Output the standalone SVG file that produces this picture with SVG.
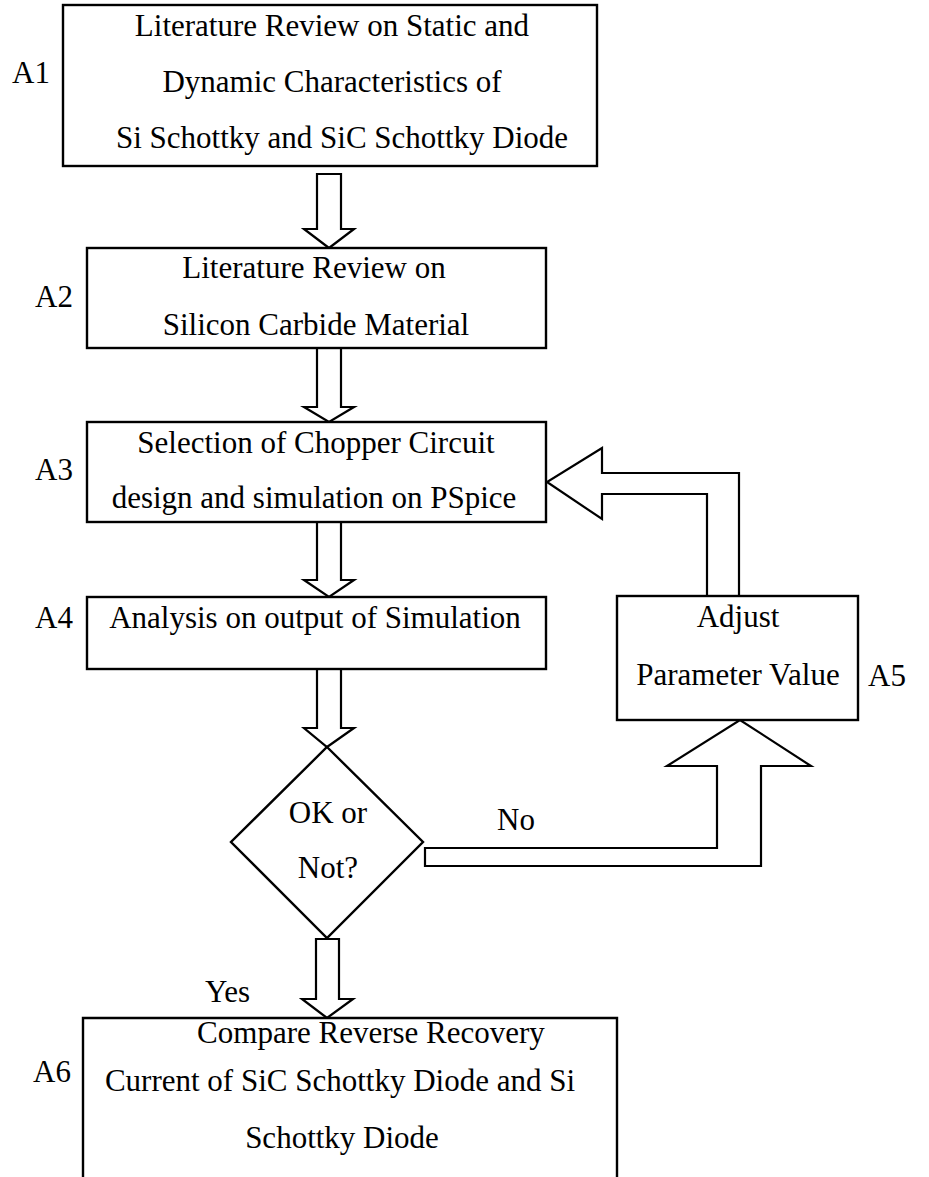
<svg xmlns="http://www.w3.org/2000/svg" width="929" height="1177" viewBox="0 0 929 1177">
<style>
.box{fill:#fff;stroke:#000;stroke-width:2.4}
.arr{fill:#fff;stroke:#000;stroke-width:2.2;stroke-linejoin:miter}
text{font-family:"Liberation Serif","Times New Roman",serif;font-size:31px;fill:#000}
.c{text-anchor:middle}
</style>
<rect width="929" height="1177" fill="#fff"/>
<g id="connectors">
<polygon class="arr" points="317,174 341,174 341,229 354,229 329,248 304,229 317,229"/>
<polygon class="arr" points="317,348 341,348 341,407 354,407 329,422 304,407 317,407"/>
<polygon class="arr" points="317,522 341,522 341,580 354,580 329,597 304,580 317,580"/>
<polygon class="arr" points="317,669 341,669 341,728 354,728 327,747 304,728 317,728"/>
<polygon class="arr" points="316,939 339,939 339,999 353,999 327,1018 302,999 316,999"/>
<polygon class="arr" points="707,596 707,494 602,494 602,519 547,482 602,448 602,473 739,473 739,596"/>
<polygon class="arr" points="425,848 717,848 717,766 667,766 740,720 811,766 761,766 761,866 425,866"/>
<text x="497" y="830">No</text>
<text x="205" y="1002">Yes</text>
</g>
<g id="A1">
<rect class="box" x="63" y="5" width="534" height="161"/>
<text class="c" x="332" y="36">Literature Review on Static and</text>
<text class="c" x="332" y="92">Dynamic Characteristics of</text>
<text class="c" x="342" y="148">Si Schottky and SiC Schottky Diode</text>
<text x="12" y="83">A1</text>
</g>
<g id="A2">
<rect class="box" x="87" y="248" width="459" height="100"/>
<text class="c" x="314" y="278">Literature Review on</text>
<text class="c" x="316" y="335">Silicon Carbide Material</text>
<text x="35" y="307">A2</text>
</g>
<g id="A3">
<rect class="box" x="87" y="422" width="459" height="100"/>
<text class="c" x="316" y="453">Selection of Chopper Circuit</text>
<text class="c" x="314" y="508">design and simulation on PSpice</text>
<text x="35" y="480">A3</text>
</g>
<g id="A4">
<rect class="box" x="87" y="597" width="459" height="72"/>
<text class="c" x="315" y="628">Analysis on output of Simulation</text>
<text x="35" y="628">A4</text>
</g>
<g id="A5">
<rect class="box" x="617" y="596" width="241" height="124"/>
<text class="c" x="738" y="627">Adjust</text>
<text class="c" x="738" y="685">Parameter Value</text>
<text x="868" y="686">A5</text>
</g>
<g id="decision">
<polygon class="box" points="327,747 423,842 327,938 231,842"/>
<text class="c" x="328" y="823">OK or</text>
<text class="c" x="328" y="878">Not?</text>
</g>
<g id="A6">
<path class="box" d="M83,1180 L83,1018 L617,1018 L617,1180" fill="none"/>
<text class="c" x="371" y="1043">Compare Reverse Recovery</text>
<text class="c" x="340" y="1091">Current of SiC Schottky Diode and Si</text>
<text class="c" x="342" y="1148">Schottky Diode</text>
<text x="33" y="1082">A6</text>
</g>
</svg>
